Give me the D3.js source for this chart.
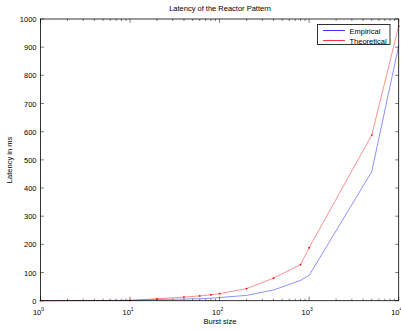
<!DOCTYPE html>
<html>
<head>
<meta charset="utf-8">
<script src="https://cdn.jsdelivr.net/npm/d3@7"></script>
<style>
  body { margin: 0; background: #fff; }
  svg { display: block; font-family: "Liberation Sans", Arial, Helvetica, sans-serif; }
</style>
</head>
<body>
<div id="chart"></div>
<script>
// Data
const burstSizes = [1, 10, 20, 40, 60, 80, 100, 200, 400, 800, 1000, 5000, 10000];
const empirical = [0, 1, 4, 6, 7, 9, 11, 19, 38, 72, 90, 458, 905];
const theoretical = [0, 1, 7, 13, 17, 21, 25, 43, 80, 128, 188, 588, 975];
const yTicks = [0, 100, 200, 300, 400, 500, 600, 700, 800, 900, 1000];
const xDecades = [1, 10, 100, 1000, 10000];

const W = 401, H = 331;
const margin = { top: 19, right: 2, bottom: 30, left: 40.5 };

const svg = d3.select('#chart').append('svg')
    .attr('width', W)
    .attr('height', H);

const x = d3.scaleLog().domain([1, 10000]).range([margin.left, 398.7]);
const y = d3.scaleLinear().domain([0, 1000]).range([300.7, margin.top]);

const x0 = x.range()[0], x1 = x.range()[1];
const y0 = y.range()[0], y1 = y.range()[1];

// minor log ticks
const minorTicks = [];
for (let d = 1; d < 10000; d *= 10) {
    for (let k = 2; k <= 9; k++) minorTicks.push(d * k);
}

const tickG = svg.append('g').attr('stroke', '#000').attr('stroke-width', 0.5);

// x ticks (bottom & top, inward)
xDecades.forEach(v => {
    tickG.append('line').attr('x1', x(v)).attr('x2', x(v)).attr('y1', y0).attr('y2', y0 - 4);
    tickG.append('line').attr('x1', x(v)).attr('x2', x(v)).attr('y1', y1).attr('y2', y1 + 4);
});
minorTicks.forEach(v => {
    tickG.append('line').attr('x1', x(v)).attr('x2', x(v)).attr('y1', y0).attr('y2', y0 - 2);
    tickG.append('line').attr('x1', x(v)).attr('x2', x(v)).attr('y1', y1).attr('y2', y1 + 2);
});
// y ticks (left & right, inward)
yTicks.forEach(v => {
    tickG.append('line').attr('x1', x0).attr('x2', x0 + 3.5).attr('y1', y(v)).attr('y2', y(v));
    tickG.append('line').attr('x1', x1).attr('x2', x1 - 3.5).attr('y1', y(v)).attr('y2', y(v));
});

// lines
const line = d3.line()
    .x((d, i) => x(burstSizes[i]))
    .y(d => y(d));

svg.append('path')
    .datum(empirical)
    .attr('fill', 'none')
    .attr('stroke', '#0000ff')
    .attr('stroke-opacity', 0.55)
    .attr('stroke-width', 0.8)
    .attr('d', line);

svg.append('path')
    .datum(theoretical)
    .attr('fill', 'none')
    .attr('stroke', '#ff0000')
    .attr('stroke-opacity', 0.55)
    .attr('stroke-width', 0.8)
    .attr('d', line);

svg.selectAll('circle.pt')
    .data(theoretical)
    .join('circle')
    .attr('class', 'pt')
    .attr('cx', (d, i) => x(burstSizes[i]))
    .attr('cy', d => y(d))
    .attr('r', 0.9)
    .attr('fill', '#ff0000');

// axes box
svg.append('rect')
    .attr('x', x0).attr('y', y1)
    .attr('width', x1 - x0).attr('height', y0 - y1)
    .attr('fill', 'none')
    .attr('stroke', '#000')
    .attr('stroke-width', 0.8);

// y tick labels
svg.selectAll('text.ylab')
    .data(yTicks)
    .join('text')
    .attr('class', 'ylab')
    .attr('x', 36.5)
    .attr('y', d => y(d) + 3)
    .attr('text-anchor', 'end')
    .attr('font-size', '7.5px')
    .attr('fill', '#000')
    .text(d => d);

// x tick labels (10 with superscript)
xDecades.forEach(v => {
    const t = svg.append('text')
        .attr('x', x(v) - 2)
        .attr('y', 315)
        .attr('text-anchor', 'middle')
        .attr('font-size', '7.5px')
        .attr('fill', '#000');
    t.append('tspan').text('10');
    t.append('tspan').attr('dy', -4).attr('font-size', '5px').text(Math.round(Math.log10(v)));
});

// title & labels
svg.append('text')
    .attr('x', 220).attr('y', 11)
    .attr('text-anchor', 'middle')
    .attr('font-size', '7.5px')
    .attr('fill', '#000')
    .text('Latency of the Reactor Pattern');

svg.append('text')
    .attr('x', 220).attr('y', 324)
    .attr('text-anchor', 'middle')
    .attr('font-size', '7.5px')
    .attr('fill', '#000')
    .text('Burst size');

svg.append('text')
    .attr('transform', 'translate(12,160) rotate(-90)')
    .attr('text-anchor', 'middle')
    .attr('font-size', '7.5px')
    .attr('fill', '#000')
    .text('Latency in ms');

// legend
const legend = svg.append('g');
legend.append('rect')
    .attr('x', 317.5).attr('y', 24.5)
    .attr('width', 72.5).attr('height', 20)
    .attr('fill', '#fff')
    .attr('stroke', '#000')
    .attr('stroke-width', 0.8);
const legendItems = [
    { label: 'Empirical', color: '#0000ff' },
    { label: 'Theoretical', color: '#ff0000' }
];
legendItems.forEach((item, i) => {
    const ly = 30.5 + i * 10;
    legend.append('line')
        .attr('x1', 323).attr('x2', 345)
        .attr('y1', ly).attr('y2', ly)
        .attr('stroke', item.color)
        .attr('stroke-width', 0.8);
    legend.append('text')
        .attr('x', 349.5).attr('y', ly + 3)
        .attr('font-size', '7.5px')
        .attr('fill', '#000')
        .text(item.label);
});
</script>
</body>
</html>
